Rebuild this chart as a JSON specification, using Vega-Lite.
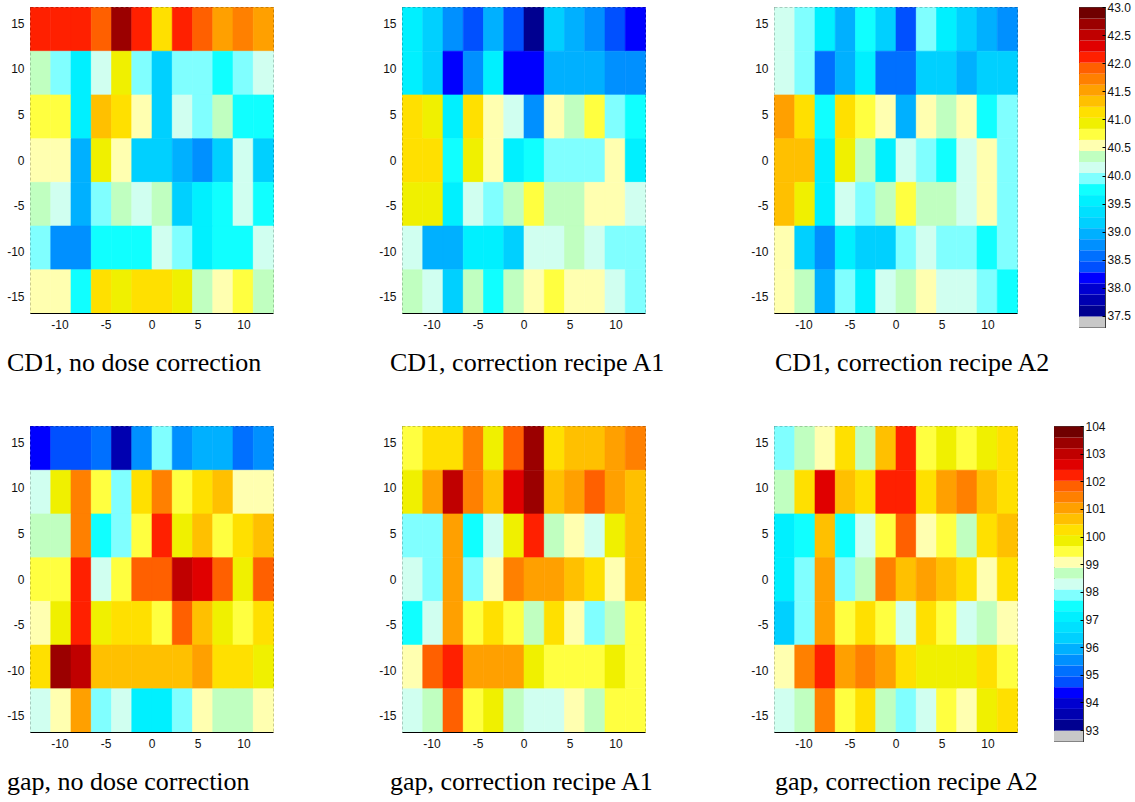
{
"$schema": "https://vega.github.io/schema/vega-lite/v6.json",
"background": "white",
"padding": {"left": 6, "top": 0, "right": 5, "bottom": 0},
"config": {
  "view": {"stroke": "#000", "strokeDash": [3, 2], "strokeWidth": 1},
  "axis": {"labelFont": "Liberation Sans", "labelFontSize": 12, "labelColor": "#111", "grid": false, "ticks": false, "labelPadding": 6, "domain": false, "title": null, "labelFlush": false, "labelOverlap": false, "labelExpr": "toString(datum.value)"},
  "title": {"font": "Liberation Serif", "fontSize": 26, "fontWeight": "normal", "color": "#000", "orient": "bottom", "anchor": "start", "frame": "group", "offset": 20}
},
"datasets": {
"A": [
{"x":-13.2,"y":12,"v":42.12},{"x":-11,"y":12,"v":42.12},{"x":-8.8,"y":12,"v":42.12},{"x":-6.6,"y":12,"v":41.92},{"x":-4.4,"y":12,"v":42.71},{"x":-2.2,"y":12,"v":42.12},{"x":0,"y":12,"v":41.13},{"x":2.2,"y":12,"v":42.12},{"x":4.4,"y":12,"v":41.92},{"x":6.6,"y":12,"v":41.53},{"x":8.8,"y":12,"v":41.72},{"x":11,"y":12,"v":41.53},
{"x":-13.2,"y":7.2,"v":40.35},{"x":-11,"y":7.2,"v":39.96},{"x":-8.8,"y":7.2,"v":39.56},{"x":-6.6,"y":7.2,"v":40.15},{"x":-4.4,"y":7.2,"v":40.94},{"x":-2.2,"y":7.2,"v":39.96},{"x":0,"y":7.2,"v":39.17},{"x":2.2,"y":7.2,"v":39.96},{"x":4.4,"y":7.2,"v":39.96},{"x":6.6,"y":7.2,"v":39.76},{"x":8.8,"y":7.2,"v":39.96},{"x":11,"y":7.2,"v":40.15},
{"x":-13.2,"y":2.4,"v":40.74},{"x":-11,"y":2.4,"v":40.74},{"x":-8.8,"y":2.4,"v":39.56},{"x":-6.6,"y":2.4,"v":41.33},{"x":-4.4,"y":2.4,"v":41.13},{"x":-2.2,"y":2.4,"v":40.54},{"x":0,"y":2.4,"v":39.17},{"x":2.2,"y":2.4,"v":40.15},{"x":4.4,"y":2.4,"v":39.96},{"x":6.6,"y":2.4,"v":40.35},{"x":8.8,"y":2.4,"v":39.76},{"x":11,"y":2.4,"v":39.76},
{"x":-13.2,"y":-2.4,"v":40.54},{"x":-11,"y":-2.4,"v":40.54},{"x":-8.8,"y":-2.4,"v":38.97},{"x":-6.6,"y":-2.4,"v":40.94},{"x":-4.4,"y":-2.4,"v":40.54},{"x":-2.2,"y":-2.4,"v":39.17},{"x":0,"y":-2.4,"v":39.17},{"x":2.2,"y":-2.4,"v":38.97},{"x":4.4,"y":-2.4,"v":38.78},{"x":6.6,"y":-2.4,"v":39.17},{"x":8.8,"y":-2.4,"v":40.15},{"x":11,"y":-2.4,"v":39.17},
{"x":-13.2,"y":-7.2,"v":40.35},{"x":-11,"y":-7.2,"v":40.15},{"x":-8.8,"y":-7.2,"v":38.97},{"x":-6.6,"y":-7.2,"v":39.96},{"x":-4.4,"y":-7.2,"v":40.35},{"x":-2.2,"y":-7.2,"v":40.15},{"x":0,"y":-7.2,"v":40.35},{"x":2.2,"y":-7.2,"v":39.17},{"x":4.4,"y":-7.2,"v":39.56},{"x":6.6,"y":-7.2,"v":39.76},{"x":8.8,"y":-7.2,"v":40.15},{"x":11,"y":-7.2,"v":39.76},
{"x":-13.2,"y":-12,"v":39.96},{"x":-11,"y":-12,"v":38.78},{"x":-8.8,"y":-12,"v":38.78},{"x":-6.6,"y":-12,"v":39.76},{"x":-4.4,"y":-12,"v":39.76},{"x":-2.2,"y":-12,"v":39.76},{"x":0,"y":-12,"v":40.15},{"x":2.2,"y":-12,"v":39.96},{"x":4.4,"y":-12,"v":39.56},{"x":6.6,"y":-12,"v":39.76},{"x":8.8,"y":-12,"v":39.76},{"x":11,"y":-12,"v":40.15},
{"x":-13.2,"y":-16.8,"v":40.54},{"x":-11,"y":-16.8,"v":40.54},{"x":-8.8,"y":-16.8,"v":39.76},{"x":-6.6,"y":-16.8,"v":41.13},{"x":-4.4,"y":-16.8,"v":40.94},{"x":-2.2,"y":-16.8,"v":41.13},{"x":0,"y":-16.8,"v":41.13},{"x":2.2,"y":-16.8,"v":40.94},{"x":4.4,"y":-16.8,"v":40.35},{"x":6.6,"y":-16.8,"v":40.54},{"x":8.8,"y":-16.8,"v":40.74},{"x":11,"y":-16.8,"v":40.35}
],
"B": [
{"x":-13.2,"y":12,"v":39.56},{"x":-11,"y":12,"v":39.17},{"x":-8.8,"y":12,"v":38.78},{"x":-6.6,"y":12,"v":38.38},{"x":-4.4,"y":12,"v":38.97},{"x":-2.2,"y":12,"v":38.38},{"x":0,"y":12,"v":37.60},{"x":2.2,"y":12,"v":39.17},{"x":4.4,"y":12,"v":38.97},{"x":6.6,"y":12,"v":38.78},{"x":8.8,"y":12,"v":38.38},{"x":11,"y":12,"v":38.19},
{"x":-13.2,"y":7.2,"v":39.56},{"x":-11,"y":7.2,"v":39.17},{"x":-8.8,"y":7.2,"v":38.19},{"x":-6.6,"y":7.2,"v":38.78},{"x":-4.4,"y":7.2,"v":39.56},{"x":-2.2,"y":7.2,"v":38.19},{"x":0,"y":7.2,"v":38.19},{"x":2.2,"y":7.2,"v":38.97},{"x":4.4,"y":7.2,"v":38.97},{"x":6.6,"y":7.2,"v":38.97},{"x":8.8,"y":7.2,"v":38.78},{"x":11,"y":7.2,"v":38.78},
{"x":-13.2,"y":2.4,"v":41.13},{"x":-11,"y":2.4,"v":40.94},{"x":-8.8,"y":2.4,"v":39.56},{"x":-6.6,"y":2.4,"v":41.13},{"x":-4.4,"y":2.4,"v":40.54},{"x":-2.2,"y":2.4,"v":40.15},{"x":0,"y":2.4,"v":38.78},{"x":2.2,"y":2.4,"v":40.54},{"x":4.4,"y":2.4,"v":40.35},{"x":6.6,"y":2.4,"v":40.74},{"x":8.8,"y":2.4,"v":39.96},{"x":11,"y":2.4,"v":39.76},
{"x":-13.2,"y":-2.4,"v":41.13},{"x":-11,"y":-2.4,"v":41.13},{"x":-8.8,"y":-2.4,"v":39.76},{"x":-6.6,"y":-2.4,"v":40.94},{"x":-4.4,"y":-2.4,"v":40.54},{"x":-2.2,"y":-2.4,"v":39.56},{"x":0,"y":-2.4,"v":39.76},{"x":2.2,"y":-2.4,"v":39.96},{"x":4.4,"y":-2.4,"v":39.96},{"x":6.6,"y":-2.4,"v":39.96},{"x":8.8,"y":-2.4,"v":40.54},{"x":11,"y":-2.4,"v":39.56},
{"x":-13.2,"y":-7.2,"v":40.94},{"x":-11,"y":-7.2,"v":40.94},{"x":-8.8,"y":-7.2,"v":39.56},{"x":-6.6,"y":-7.2,"v":40.15},{"x":-4.4,"y":-7.2,"v":39.96},{"x":-2.2,"y":-7.2,"v":40.35},{"x":0,"y":-7.2,"v":40.74},{"x":2.2,"y":-7.2,"v":40.35},{"x":4.4,"y":-7.2,"v":40.35},{"x":6.6,"y":-7.2,"v":40.54},{"x":8.8,"y":-7.2,"v":40.54},{"x":11,"y":-7.2,"v":40.15},
{"x":-13.2,"y":-12,"v":40.15},{"x":-11,"y":-12,"v":38.97},{"x":-8.8,"y":-12,"v":38.97},{"x":-6.6,"y":-12,"v":39.56},{"x":-4.4,"y":-12,"v":39.56},{"x":-2.2,"y":-12,"v":39.17},{"x":0,"y":-12,"v":40.15},{"x":2.2,"y":-12,"v":40.15},{"x":4.4,"y":-12,"v":40.35},{"x":6.6,"y":-12,"v":40.15},{"x":8.8,"y":-12,"v":39.96},{"x":11,"y":-12,"v":39.96},
{"x":-13.2,"y":-16.8,"v":40.35},{"x":-11,"y":-16.8,"v":40.15},{"x":-8.8,"y":-16.8,"v":39.17},{"x":-6.6,"y":-16.8,"v":40.35},{"x":-4.4,"y":-16.8,"v":39.76},{"x":-2.2,"y":-16.8,"v":40.35},{"x":0,"y":-16.8,"v":40.54},{"x":2.2,"y":-16.8,"v":40.74},{"x":4.4,"y":-16.8,"v":40.54},{"x":6.6,"y":-16.8,"v":40.54},{"x":8.8,"y":-16.8,"v":40.15},{"x":11,"y":-16.8,"v":39.96}
],
"C": [
{"x":-13.2,"y":12,"v":40.15},{"x":-11,"y":12,"v":39.96},{"x":-8.8,"y":12,"v":39.56},{"x":-6.6,"y":12,"v":38.97},{"x":-4.4,"y":12,"v":39.76},{"x":-2.2,"y":12,"v":39.17},{"x":0,"y":12,"v":38.38},{"x":2.2,"y":12,"v":39.96},{"x":4.4,"y":12,"v":39.56},{"x":6.6,"y":12,"v":39.17},{"x":8.8,"y":12,"v":38.97},{"x":11,"y":12,"v":38.78},
{"x":-13.2,"y":7.2,"v":40.15},{"x":-11,"y":7.2,"v":39.96},{"x":-8.8,"y":7.2,"v":38.58},{"x":-6.6,"y":7.2,"v":38.97},{"x":-4.4,"y":7.2,"v":39.56},{"x":-2.2,"y":7.2,"v":38.58},{"x":0,"y":7.2,"v":38.58},{"x":2.2,"y":7.2,"v":39.17},{"x":4.4,"y":7.2,"v":39.17},{"x":6.6,"y":7.2,"v":38.97},{"x":8.8,"y":7.2,"v":39.17},{"x":11,"y":7.2,"v":39.17},
{"x":-13.2,"y":2.4,"v":41.53},{"x":-11,"y":2.4,"v":41.13},{"x":-8.8,"y":2.4,"v":39.76},{"x":-6.6,"y":2.4,"v":41.13},{"x":-4.4,"y":2.4,"v":40.74},{"x":-2.2,"y":2.4,"v":40.54},{"x":0,"y":2.4,"v":38.97},{"x":2.2,"y":2.4,"v":40.54},{"x":4.4,"y":2.4,"v":40.35},{"x":6.6,"y":2.4,"v":40.54},{"x":8.8,"y":2.4,"v":39.76},{"x":11,"y":2.4,"v":39.96},
{"x":-13.2,"y":-2.4,"v":41.33},{"x":-11,"y":-2.4,"v":41.33},{"x":-8.8,"y":-2.4,"v":39.56},{"x":-6.6,"y":-2.4,"v":40.94},{"x":-4.4,"y":-2.4,"v":40.35},{"x":-2.2,"y":-2.4,"v":39.56},{"x":0,"y":-2.4,"v":40.15},{"x":2.2,"y":-2.4,"v":39.96},{"x":4.4,"y":-2.4,"v":39.76},{"x":6.6,"y":-2.4,"v":40.15},{"x":8.8,"y":-2.4,"v":40.54},{"x":11,"y":-2.4,"v":39.96},
{"x":-13.2,"y":-7.2,"v":41.33},{"x":-11,"y":-7.2,"v":40.94},{"x":-8.8,"y":-7.2,"v":39.56},{"x":-6.6,"y":-7.2,"v":40.15},{"x":-4.4,"y":-7.2,"v":39.96},{"x":-2.2,"y":-7.2,"v":40.35},{"x":0,"y":-7.2,"v":40.74},{"x":2.2,"y":-7.2,"v":40.35},{"x":4.4,"y":-7.2,"v":40.35},{"x":6.6,"y":-7.2,"v":40.15},{"x":8.8,"y":-7.2,"v":40.54},{"x":11,"y":-7.2,"v":39.96},
{"x":-13.2,"y":-12,"v":40.54},{"x":-11,"y":-12,"v":39.17},{"x":-8.8,"y":-12,"v":38.78},{"x":-6.6,"y":-12,"v":39.56},{"x":-4.4,"y":-12,"v":39.17},{"x":-2.2,"y":-12,"v":39.17},{"x":0,"y":-12,"v":39.96},{"x":2.2,"y":-12,"v":40.15},{"x":4.4,"y":-12,"v":39.96},{"x":6.6,"y":-12,"v":39.96},{"x":8.8,"y":-12,"v":39.76},{"x":11,"y":-12,"v":39.96},
{"x":-13.2,"y":-16.8,"v":40.54},{"x":-11,"y":-16.8,"v":40.35},{"x":-8.8,"y":-16.8,"v":38.97},{"x":-6.6,"y":-16.8,"v":39.96},{"x":-4.4,"y":-16.8,"v":39.56},{"x":-2.2,"y":-16.8,"v":40.15},{"x":0,"y":-16.8,"v":40.35},{"x":2.2,"y":-16.8,"v":40.54},{"x":4.4,"y":-16.8,"v":40.15},{"x":6.6,"y":-16.8,"v":40.15},{"x":8.8,"y":-16.8,"v":39.96},{"x":11,"y":-16.8,"v":39.76}
],
"D": [
{"x":-13.2,"y":12,"v":94.38},{"x":-11,"y":12,"v":94.77},{"x":-8.8,"y":12,"v":94.77},{"x":-6.6,"y":12,"v":95.16},{"x":-4.4,"y":12,"v":93.59},{"x":-2.2,"y":12,"v":95.55},{"x":0,"y":12,"v":97.91},{"x":2.2,"y":12,"v":95.55},{"x":4.4,"y":12,"v":95.95},{"x":6.6,"y":12,"v":95.95},{"x":8.8,"y":12,"v":95.16},{"x":11,"y":12,"v":95.55},
{"x":-13.2,"y":7.2,"v":98.30},{"x":-11,"y":7.2,"v":99.88},{"x":-8.8,"y":7.2,"v":101.45},{"x":-6.6,"y":7.2,"v":99.48},{"x":-4.4,"y":7.2,"v":97.91},{"x":-2.2,"y":7.2,"v":100.27},{"x":0,"y":7.2,"v":101.45},{"x":2.2,"y":7.2,"v":99.48},{"x":4.4,"y":7.2,"v":100.27},{"x":6.6,"y":7.2,"v":100.66},{"x":8.8,"y":7.2,"v":99.09},{"x":11,"y":7.2,"v":99.09},
{"x":-13.2,"y":2.4,"v":98.70},{"x":-11,"y":2.4,"v":98.70},{"x":-8.8,"y":2.4,"v":101.45},{"x":-6.6,"y":2.4,"v":97.52},{"x":-4.4,"y":2.4,"v":97.91},{"x":-2.2,"y":2.4,"v":99.48},{"x":0,"y":2.4,"v":102.23},{"x":2.2,"y":2.4,"v":99.88},{"x":4.4,"y":2.4,"v":100.66},{"x":6.6,"y":2.4,"v":99.48},{"x":8.8,"y":2.4,"v":100.27},{"x":11,"y":2.4,"v":100.66},
{"x":-13.2,"y":-2.4,"v":99.48},{"x":-11,"y":-2.4,"v":99.48},{"x":-8.8,"y":-2.4,"v":102.23},{"x":-6.6,"y":-2.4,"v":98.30},{"x":-4.4,"y":-2.4,"v":99.48},{"x":-2.2,"y":-2.4,"v":101.84},{"x":0,"y":-2.4,"v":101.84},{"x":2.2,"y":-2.4,"v":103.02},{"x":4.4,"y":-2.4,"v":102.63},{"x":6.6,"y":-2.4,"v":101.84},{"x":8.8,"y":-2.4,"v":99.88},{"x":11,"y":-2.4,"v":101.84},
{"x":-13.2,"y":-7.2,"v":99.09},{"x":-11,"y":-7.2,"v":99.88},{"x":-8.8,"y":-7.2,"v":102.23},{"x":-6.6,"y":-7.2,"v":99.88},{"x":-4.4,"y":-7.2,"v":100.27},{"x":-2.2,"y":-7.2,"v":100.27},{"x":0,"y":-7.2,"v":99.48},{"x":2.2,"y":-7.2,"v":101.84},{"x":4.4,"y":-7.2,"v":100.66},{"x":6.6,"y":-7.2,"v":99.88},{"x":8.8,"y":-7.2,"v":99.48},{"x":11,"y":-7.2,"v":100.27},
{"x":-13.2,"y":-12,"v":100.27},{"x":-11,"y":-12,"v":103.41},{"x":-8.8,"y":-12,"v":103.02},{"x":-6.6,"y":-12,"v":100.66},{"x":-4.4,"y":-12,"v":100.66},{"x":-2.2,"y":-12,"v":100.66},{"x":0,"y":-12,"v":100.66},{"x":2.2,"y":-12,"v":100.66},{"x":4.4,"y":-12,"v":101.05},{"x":6.6,"y":-12,"v":100.27},{"x":8.8,"y":-12,"v":100.27},{"x":11,"y":-12,"v":99.88},
{"x":-13.2,"y":-16.8,"v":98.30},{"x":-11,"y":-16.8,"v":99.09},{"x":-8.8,"y":-16.8,"v":101.05},{"x":-6.6,"y":-16.8,"v":97.91},{"x":-4.4,"y":-16.8,"v":98.30},{"x":-2.2,"y":-16.8,"v":97.13},{"x":0,"y":-16.8,"v":97.13},{"x":2.2,"y":-16.8,"v":97.91},{"x":4.4,"y":-16.8,"v":99.09},{"x":6.6,"y":-16.8,"v":98.70},{"x":8.8,"y":-16.8,"v":98.70},{"x":11,"y":-16.8,"v":99.09}
],
"E": [
{"x":-13.2,"y":12,"v":99.48},{"x":-11,"y":12,"v":100.27},{"x":-8.8,"y":12,"v":100.27},{"x":-6.6,"y":12,"v":101.45},{"x":-4.4,"y":12,"v":99.88},{"x":-2.2,"y":12,"v":101.84},{"x":0,"y":12,"v":103.41},{"x":2.2,"y":12,"v":100.27},{"x":4.4,"y":12,"v":100.66},{"x":6.6,"y":12,"v":100.66},{"x":8.8,"y":12,"v":101.05},{"x":11,"y":12,"v":101.45},
{"x":-13.2,"y":7.2,"v":99.88},{"x":-11,"y":7.2,"v":101.05},{"x":-8.8,"y":7.2,"v":103.02},{"x":-6.6,"y":7.2,"v":101.45},{"x":-4.4,"y":7.2,"v":100.66},{"x":-2.2,"y":7.2,"v":102.63},{"x":0,"y":7.2,"v":103.41},{"x":2.2,"y":7.2,"v":100.66},{"x":4.4,"y":7.2,"v":101.05},{"x":6.6,"y":7.2,"v":101.84},{"x":8.8,"y":7.2,"v":101.05},{"x":11,"y":7.2,"v":100.66},
{"x":-13.2,"y":2.4,"v":97.91},{"x":-11,"y":2.4,"v":97.91},{"x":-8.8,"y":2.4,"v":101.05},{"x":-6.6,"y":2.4,"v":97.52},{"x":-4.4,"y":2.4,"v":98.30},{"x":-2.2,"y":2.4,"v":99.88},{"x":0,"y":2.4,"v":102.23},{"x":2.2,"y":2.4,"v":98.70},{"x":4.4,"y":2.4,"v":99.09},{"x":6.6,"y":2.4,"v":98.30},{"x":8.8,"y":2.4,"v":99.88},{"x":11,"y":2.4,"v":100.66},
{"x":-13.2,"y":-2.4,"v":98.30},{"x":-11,"y":-2.4,"v":97.91},{"x":-8.8,"y":-2.4,"v":101.05},{"x":-6.6,"y":-2.4,"v":97.91},{"x":-4.4,"y":-2.4,"v":99.09},{"x":-2.2,"y":-2.4,"v":101.45},{"x":0,"y":-2.4,"v":101.05},{"x":2.2,"y":-2.4,"v":101.05},{"x":4.4,"y":-2.4,"v":100.66},{"x":6.6,"y":-2.4,"v":100.27},{"x":8.8,"y":-2.4,"v":99.09},{"x":11,"y":-2.4,"v":100.66},
{"x":-13.2,"y":-7.2,"v":97.52},{"x":-11,"y":-7.2,"v":98.30},{"x":-8.8,"y":-7.2,"v":101.05},{"x":-6.6,"y":-7.2,"v":99.48},{"x":-4.4,"y":-7.2,"v":100.27},{"x":-2.2,"y":-7.2,"v":99.48},{"x":0,"y":-7.2,"v":98.70},{"x":2.2,"y":-7.2,"v":100.27},{"x":4.4,"y":-7.2,"v":99.09},{"x":6.6,"y":-7.2,"v":97.91},{"x":8.8,"y":-7.2,"v":98.70},{"x":11,"y":-7.2,"v":99.48},
{"x":-13.2,"y":-12,"v":99.09},{"x":-11,"y":-12,"v":101.84},{"x":-8.8,"y":-12,"v":102.23},{"x":-6.6,"y":-12,"v":101.05},{"x":-4.4,"y":-12,"v":101.05},{"x":-2.2,"y":-12,"v":101.05},{"x":0,"y":-12,"v":99.88},{"x":2.2,"y":-12,"v":99.48},{"x":4.4,"y":-12,"v":99.48},{"x":6.6,"y":-12,"v":99.48},{"x":8.8,"y":-12,"v":99.88},{"x":11,"y":-12,"v":99.48},
{"x":-13.2,"y":-16.8,"v":98.30},{"x":-11,"y":-16.8,"v":98.70},{"x":-8.8,"y":-16.8,"v":101.84},{"x":-6.6,"y":-16.8,"v":99.48},{"x":-4.4,"y":-16.8,"v":99.88},{"x":-2.2,"y":-16.8,"v":98.70},{"x":0,"y":-16.8,"v":98.30},{"x":2.2,"y":-16.8,"v":98.30},{"x":4.4,"y":-16.8,"v":99.09},{"x":6.6,"y":-16.8,"v":98.70},{"x":8.8,"y":-16.8,"v":99.48},{"x":11,"y":-16.8,"v":99.48}
],
"F": [
{"x":-13.2,"y":12,"v":97.91},{"x":-11,"y":12,"v":98.70},{"x":-8.8,"y":12,"v":99.09},{"x":-6.6,"y":12,"v":100.27},{"x":-4.4,"y":12,"v":98.70},{"x":-2.2,"y":12,"v":100.66},{"x":0,"y":12,"v":102.23},{"x":2.2,"y":12,"v":99.48},{"x":4.4,"y":12,"v":99.88},{"x":6.6,"y":12,"v":99.48},{"x":8.8,"y":12,"v":99.88},{"x":11,"y":12,"v":100.27},
{"x":-13.2,"y":7.2,"v":98.70},{"x":-11,"y":7.2,"v":100.27},{"x":-8.8,"y":7.2,"v":102.63},{"x":-6.6,"y":7.2,"v":100.66},{"x":-4.4,"y":7.2,"v":100.27},{"x":-2.2,"y":7.2,"v":102.23},{"x":0,"y":7.2,"v":102.23},{"x":2.2,"y":7.2,"v":100.27},{"x":4.4,"y":7.2,"v":101.05},{"x":6.6,"y":7.2,"v":101.45},{"x":8.8,"y":7.2,"v":100.66},{"x":11,"y":7.2,"v":100.27},
{"x":-13.2,"y":2.4,"v":97.13},{"x":-11,"y":2.4,"v":97.52},{"x":-8.8,"y":2.4,"v":100.66},{"x":-6.6,"y":2.4,"v":97.52},{"x":-4.4,"y":2.4,"v":98.30},{"x":-2.2,"y":2.4,"v":99.48},{"x":0,"y":2.4,"v":101.84},{"x":2.2,"y":2.4,"v":99.09},{"x":4.4,"y":2.4,"v":99.48},{"x":6.6,"y":2.4,"v":98.70},{"x":8.8,"y":2.4,"v":100.27},{"x":11,"y":2.4,"v":100.66},
{"x":-13.2,"y":-2.4,"v":97.13},{"x":-11,"y":-2.4,"v":97.91},{"x":-8.8,"y":-2.4,"v":101.05},{"x":-6.6,"y":-2.4,"v":97.91},{"x":-4.4,"y":-2.4,"v":98.70},{"x":-2.2,"y":-2.4,"v":101.45},{"x":0,"y":-2.4,"v":100.66},{"x":2.2,"y":-2.4,"v":101.05},{"x":4.4,"y":-2.4,"v":100.66},{"x":6.6,"y":-2.4,"v":100.27},{"x":8.8,"y":-2.4,"v":99.09},{"x":11,"y":-2.4,"v":100.27},
{"x":-13.2,"y":-7.2,"v":96.34},{"x":-11,"y":-7.2,"v":97.91},{"x":-8.8,"y":-7.2,"v":101.05},{"x":-6.6,"y":-7.2,"v":99.48},{"x":-4.4,"y":-7.2,"v":100.27},{"x":-2.2,"y":-7.2,"v":99.48},{"x":0,"y":-7.2,"v":98.30},{"x":2.2,"y":-7.2,"v":100.27},{"x":4.4,"y":-7.2,"v":99.48},{"x":6.6,"y":-7.2,"v":98.30},{"x":8.8,"y":-7.2,"v":98.70},{"x":11,"y":-7.2,"v":99.09},
{"x":-13.2,"y":-12,"v":99.09},{"x":-11,"y":-12,"v":101.45},{"x":-8.8,"y":-12,"v":102.23},{"x":-6.6,"y":-12,"v":101.05},{"x":-4.4,"y":-12,"v":101.45},{"x":-2.2,"y":-12,"v":101.05},{"x":0,"y":-12,"v":100.27},{"x":2.2,"y":-12,"v":99.88},{"x":4.4,"y":-12,"v":99.88},{"x":6.6,"y":-12,"v":99.88},{"x":8.8,"y":-12,"v":100.27},{"x":11,"y":-12,"v":99.48},
{"x":-13.2,"y":-16.8,"v":98.30},{"x":-11,"y":-16.8,"v":98.70},{"x":-8.8,"y":-16.8,"v":101.45},{"x":-6.6,"y":-16.8,"v":99.48},{"x":-4.4,"y":-16.8,"v":100.27},{"x":-2.2,"y":-16.8,"v":98.70},{"x":0,"y":-16.8,"v":97.91},{"x":2.2,"y":-16.8,"v":98.30},{"x":4.4,"y":-16.8,"v":99.48},{"x":6.6,"y":-16.8,"v":99.09},{"x":8.8,"y":-16.8,"v":99.88},{"x":11,"y":-16.8,"v":100.27}
],
"cbA": [
{"lo":37.3036,"v":37.4018},{"lo":37.5,"v":37.5982},{"lo":37.6964,"v":37.7946},{"lo":37.8929,"v":37.9911},{"lo":38.0893,"v":38.1875},{"lo":38.2857,"v":38.3839},{"lo":38.4821,"v":38.5804},{"lo":38.6786,"v":38.7768},{"lo":38.875,"v":38.9732},{"lo":39.0714,"v":39.1696},{"lo":39.2679,"v":39.3661},{"lo":39.4643,"v":39.5625},{"lo":39.6607,"v":39.7589},{"lo":39.8571,"v":39.9554},{"lo":40.0536,"v":40.1518},{"lo":40.25,"v":40.3482},{"lo":40.4464,"v":40.5446},{"lo":40.6429,"v":40.7411},{"lo":40.8393,"v":40.9375},{"lo":41.0357,"v":41.1339},{"lo":41.2321,"v":41.3304},{"lo":41.4286,"v":41.5268},{"lo":41.625,"v":41.7232},{"lo":41.8214,"v":41.9196},{"lo":42.0179,"v":42.1161},{"lo":42.2143,"v":42.3125},{"lo":42.4107,"v":42.5089},{"lo":42.6071,"v":42.7054},{"lo":42.8036,"v":42.9018}
],
"cbB": [
{"lo":92.6071,"v":92.8036},{"lo":93.0,"v":93.1964},{"lo":93.3929,"v":93.5893},{"lo":93.7857,"v":93.9821},{"lo":94.1786,"v":94.375},{"lo":94.5714,"v":94.7679},{"lo":94.9643,"v":95.1607},{"lo":95.3571,"v":95.5536},{"lo":95.75,"v":95.9464},{"lo":96.1429,"v":96.3393},{"lo":96.5357,"v":96.7321},{"lo":96.9286,"v":97.125},{"lo":97.3214,"v":97.5179},{"lo":97.7143,"v":97.9107},{"lo":98.1071,"v":98.3036},{"lo":98.5,"v":98.6964},{"lo":98.8929,"v":99.0893},{"lo":99.2857,"v":99.4821},{"lo":99.6786,"v":99.875},{"lo":100.0714,"v":100.2679},{"lo":100.4643,"v":100.6607},{"lo":100.8571,"v":101.0536},{"lo":101.25,"v":101.4464},{"lo":101.6429,"v":101.8393},{"lo":102.0357,"v":102.2321},{"lo":102.4286,"v":102.625},{"lo":102.8214,"v":103.0179},{"lo":103.2143,"v":103.4107},{"lo":103.6071,"v":103.8036}
]
},
"vconcat": [
 {"hconcat": [
  {"hconcat": [
   {"data": {"name": "A"}, "width": 243, "height": 306, "title": {"text": "CD1, no dose correction", "dx": -23},
    "mark": {"type": "rect", "binSpacing": 0, "strokeWidth": 0.6},
    "encoding": {
     "x": {"field": "x", "type": "quantitative", "bin": {"binned": true, "step": 2.2}, "scale": {"domain": [-13.2, 13.2], "nice": false, "zero": false}, "axis": {"values": [-10, -5, 0, 5, 10], "domain": true, "domainColor": "#000"}},
     "y": {"field": "y", "type": "quantitative", "bin": {"binned": true, "step": 4.8}, "scale": {"domain": [-16.8, 16.8], "nice": false, "zero": false}, "axis": {"values": [-15, -10, -5, 0, 5, 10, 15]}},
     "color": {"field": "v", "type": "quantitative", "scale": {"type": "quantize", "domain": [37.30357, 43], "nice": false, "zero": false, "range": ["#c8c8c8","#000090","#0000b0","#0000d0","#0000ff","#0050ff","#0070ff","#0090ff","#00b0ff","#00d0ff","#00e0ff","#00f0ff","#10ffff","#80ffff","#d0fff0","#c0ffc0","#ffffb0","#ffff40","#f0f000","#ffe000","#ffc000","#ffa000","#ff8000","#ff6000","#ff2000","#e00000","#c00000","#9b0000","#700000"]}, "legend": null},
     "stroke": {"field": "v", "type": "quantitative", "scale": {"type": "quantize", "domain": [37.30357, 43], "nice": false, "zero": false, "range": ["#c8c8c8","#000090","#0000b0","#0000d0","#0000ff","#0050ff","#0070ff","#0090ff","#00b0ff","#00d0ff","#00e0ff","#00f0ff","#10ffff","#80ffff","#d0fff0","#c0ffc0","#ffffb0","#ffff40","#f0f000","#ffe000","#ffc000","#ffa000","#ff8000","#ff6000","#ff2000","#e00000","#c00000","#9b0000","#700000"]}, "legend": null}
    }},
   {"data": {"name": "B"}, "width": 243, "height": 306, "title": {"text": "CD1, correction recipe A1", "dx": -12},
    "mark": {"type": "rect", "binSpacing": 0, "strokeWidth": 0.6},
    "encoding": {
     "x": {"field": "x", "type": "quantitative", "bin": {"binned": true, "step": 2.2}, "scale": {"domain": [-13.2, 13.2], "nice": false, "zero": false}, "axis": {"values": [-10, -5, 0, 5, 10], "domain": true, "domainColor": "#000"}},
     "y": {"field": "y", "type": "quantitative", "bin": {"binned": true, "step": 4.8}, "scale": {"domain": [-16.8, 16.8], "nice": false, "zero": false}, "axis": {"values": [-15, -10, -5, 0, 5, 10, 15]}},
     "color": {"field": "v", "type": "quantitative", "scale": {"type": "quantize", "domain": [37.30357, 43], "nice": false, "zero": false, "range": ["#c8c8c8","#000090","#0000b0","#0000d0","#0000ff","#0050ff","#0070ff","#0090ff","#00b0ff","#00d0ff","#00e0ff","#00f0ff","#10ffff","#80ffff","#d0fff0","#c0ffc0","#ffffb0","#ffff40","#f0f000","#ffe000","#ffc000","#ffa000","#ff8000","#ff6000","#ff2000","#e00000","#c00000","#9b0000","#700000"]}, "legend": null},
     "stroke": {"field": "v", "type": "quantitative", "scale": {"type": "quantize", "domain": [37.30357, 43], "nice": false, "zero": false, "range": ["#c8c8c8","#000090","#0000b0","#0000d0","#0000ff","#0050ff","#0070ff","#0090ff","#00b0ff","#00d0ff","#00e0ff","#00f0ff","#10ffff","#80ffff","#d0fff0","#c0ffc0","#ffffb0","#ffff40","#f0f000","#ffe000","#ffc000","#ffa000","#ff8000","#ff6000","#ff2000","#e00000","#c00000","#9b0000","#700000"]}, "legend": null}
    }},
   {"data": {"name": "C"}, "width": 243, "height": 306, "title": {"text": "CD1, correction recipe A2", "dx": 1},
    "mark": {"type": "rect", "binSpacing": 0, "strokeWidth": 0.6},
    "encoding": {
     "x": {"field": "x", "type": "quantitative", "bin": {"binned": true, "step": 2.2}, "scale": {"domain": [-13.2, 13.2], "nice": false, "zero": false}, "axis": {"values": [-10, -5, 0, 5, 10], "domain": true, "domainColor": "#000"}},
     "y": {"field": "y", "type": "quantitative", "bin": {"binned": true, "step": 4.8}, "scale": {"domain": [-16.8, 16.8], "nice": false, "zero": false}, "axis": {"values": [-15, -10, -5, 0, 5, 10, 15]}},
     "color": {"field": "v", "type": "quantitative", "scale": {"type": "quantize", "domain": [37.30357, 43], "nice": false, "zero": false, "range": ["#c8c8c8","#000090","#0000b0","#0000d0","#0000ff","#0050ff","#0070ff","#0090ff","#00b0ff","#00d0ff","#00e0ff","#00f0ff","#10ffff","#80ffff","#d0fff0","#c0ffc0","#ffffb0","#ffff40","#f0f000","#ffe000","#ffc000","#ffa000","#ff8000","#ff6000","#ff2000","#e00000","#c00000","#9b0000","#700000"]}, "legend": null},
     "stroke": {"field": "v", "type": "quantitative", "scale": {"type": "quantize", "domain": [37.30357, 43], "nice": false, "zero": false, "range": ["#c8c8c8","#000090","#0000b0","#0000d0","#0000ff","#0050ff","#0070ff","#0090ff","#00b0ff","#00d0ff","#00e0ff","#00f0ff","#10ffff","#80ffff","#d0fff0","#c0ffc0","#ffffb0","#ffff40","#f0f000","#ffe000","#ffc000","#ffa000","#ff8000","#ff6000","#ff2000","#e00000","#c00000","#9b0000","#700000"]}, "legend": null}
    }}
  ], "spacing": 129, "bounds": "flush", "resolve": {"scale": {"color": "independent", "stroke": "independent", "x": "independent", "y": "independent"}}},
  {"data": {"name": "cbA"}, "width": 26, "height": 320, "view": {"stroke": "#000", "strokeDash": [1, 0]},
   "mark": {"type": "rect", "binSpacing": 0, "strokeWidth": 0},
   "encoding": {
    "y": {"field": "lo", "type": "quantitative", "bin": {"binned": true, "step": 0.196429}, "scale": {"domain": [37.30357, 43], "nice": false, "zero": false}, "axis": {"orient": "right", "values": [37.5, 38, 38.5, 39, 39.5, 40, 40.5, 41, 41.5, 42, 42.5, 43], "labelExpr": "format(datum.value, '.1f')", "ticks": true, "tickSize": -3, "tickColor": "#000", "labelPadding": 5}},
    "color": {"field": "v", "type": "quantitative", "scale": {"type": "quantize", "domain": [37.30357, 43], "nice": false, "zero": false, "range": ["#c8c8c8","#000090","#0000b0","#0000d0","#0000ff","#0050ff","#0070ff","#0090ff","#00b0ff","#00d0ff","#00e0ff","#00f0ff","#10ffff","#80ffff","#d0fff0","#c0ffc0","#ffffb0","#ffff40","#f0f000","#ffe000","#ffc000","#ffa000","#ff8000","#ff6000","#ff2000","#e00000","#c00000","#9b0000","#700000"]}, "legend": null}
   }}
 ], "spacing": 26, "resolve": {"scale": {"color": "independent", "stroke": "independent", "x": "independent", "y": "independent"}}},
 {"hconcat": [
  {"hconcat": [
   {"data": {"name": "D"}, "width": 243, "height": 306, "title": {"text": "gap, no dose correction", "dx": -23},
    "mark": {"type": "rect", "binSpacing": 0, "strokeWidth": 0.6},
    "encoding": {
     "x": {"field": "x", "type": "quantitative", "bin": {"binned": true, "step": 2.2}, "scale": {"domain": [-13.2, 13.2], "nice": false, "zero": false}, "axis": {"values": [-10, -5, 0, 5, 10], "domain": true, "domainColor": "#000"}},
     "y": {"field": "y", "type": "quantitative", "bin": {"binned": true, "step": 4.8}, "scale": {"domain": [-16.8, 16.8], "nice": false, "zero": false}, "axis": {"values": [-15, -10, -5, 0, 5, 10, 15]}},
     "color": {"field": "v", "type": "quantitative", "scale": {"type": "quantize", "domain": [92.60714, 104], "nice": false, "zero": false, "range": ["#c8c8c8","#000090","#0000b0","#0000d0","#0000ff","#0050ff","#0070ff","#0090ff","#00b0ff","#00d0ff","#00e0ff","#00f0ff","#10ffff","#80ffff","#d0fff0","#c0ffc0","#ffffb0","#ffff40","#f0f000","#ffe000","#ffc000","#ffa000","#ff8000","#ff6000","#ff2000","#e00000","#c00000","#9b0000","#700000"]}, "legend": null},
     "stroke": {"field": "v", "type": "quantitative", "scale": {"type": "quantize", "domain": [92.60714, 104], "nice": false, "zero": false, "range": ["#c8c8c8","#000090","#0000b0","#0000d0","#0000ff","#0050ff","#0070ff","#0090ff","#00b0ff","#00d0ff","#00e0ff","#00f0ff","#10ffff","#80ffff","#d0fff0","#c0ffc0","#ffffb0","#ffff40","#f0f000","#ffe000","#ffc000","#ffa000","#ff8000","#ff6000","#ff2000","#e00000","#c00000","#9b0000","#700000"]}, "legend": null}
    }},
   {"data": {"name": "E"}, "width": 243, "height": 306, "title": {"text": "gap, correction recipe A1", "dx": -12},
    "mark": {"type": "rect", "binSpacing": 0, "strokeWidth": 0.6},
    "encoding": {
     "x": {"field": "x", "type": "quantitative", "bin": {"binned": true, "step": 2.2}, "scale": {"domain": [-13.2, 13.2], "nice": false, "zero": false}, "axis": {"values": [-10, -5, 0, 5, 10], "domain": true, "domainColor": "#000"}},
     "y": {"field": "y", "type": "quantitative", "bin": {"binned": true, "step": 4.8}, "scale": {"domain": [-16.8, 16.8], "nice": false, "zero": false}, "axis": {"values": [-15, -10, -5, 0, 5, 10, 15]}},
     "color": {"field": "v", "type": "quantitative", "scale": {"type": "quantize", "domain": [92.60714, 104], "nice": false, "zero": false, "range": ["#c8c8c8","#000090","#0000b0","#0000d0","#0000ff","#0050ff","#0070ff","#0090ff","#00b0ff","#00d0ff","#00e0ff","#00f0ff","#10ffff","#80ffff","#d0fff0","#c0ffc0","#ffffb0","#ffff40","#f0f000","#ffe000","#ffc000","#ffa000","#ff8000","#ff6000","#ff2000","#e00000","#c00000","#9b0000","#700000"]}, "legend": null},
     "stroke": {"field": "v", "type": "quantitative", "scale": {"type": "quantize", "domain": [92.60714, 104], "nice": false, "zero": false, "range": ["#c8c8c8","#000090","#0000b0","#0000d0","#0000ff","#0050ff","#0070ff","#0090ff","#00b0ff","#00d0ff","#00e0ff","#00f0ff","#10ffff","#80ffff","#d0fff0","#c0ffc0","#ffffb0","#ffff40","#f0f000","#ffe000","#ffc000","#ffa000","#ff8000","#ff6000","#ff2000","#e00000","#c00000","#9b0000","#700000"]}, "legend": null}
    }},
   {"data": {"name": "F"}, "width": 243, "height": 306, "title": {"text": "gap, correction recipe A2", "dx": 1},
    "mark": {"type": "rect", "binSpacing": 0, "strokeWidth": 0.6},
    "encoding": {
     "x": {"field": "x", "type": "quantitative", "bin": {"binned": true, "step": 2.2}, "scale": {"domain": [-13.2, 13.2], "nice": false, "zero": false}, "axis": {"values": [-10, -5, 0, 5, 10], "domain": true, "domainColor": "#000"}},
     "y": {"field": "y", "type": "quantitative", "bin": {"binned": true, "step": 4.8}, "scale": {"domain": [-16.8, 16.8], "nice": false, "zero": false}, "axis": {"values": [-15, -10, -5, 0, 5, 10, 15]}},
     "color": {"field": "v", "type": "quantitative", "scale": {"type": "quantize", "domain": [92.60714, 104], "nice": false, "zero": false, "range": ["#c8c8c8","#000090","#0000b0","#0000d0","#0000ff","#0050ff","#0070ff","#0090ff","#00b0ff","#00d0ff","#00e0ff","#00f0ff","#10ffff","#80ffff","#d0fff0","#c0ffc0","#ffffb0","#ffff40","#f0f000","#ffe000","#ffc000","#ffa000","#ff8000","#ff6000","#ff2000","#e00000","#c00000","#9b0000","#700000"]}, "legend": null},
     "stroke": {"field": "v", "type": "quantitative", "scale": {"type": "quantize", "domain": [92.60714, 104], "nice": false, "zero": false, "range": ["#c8c8c8","#000090","#0000b0","#0000d0","#0000ff","#0050ff","#0070ff","#0090ff","#00b0ff","#00d0ff","#00e0ff","#00f0ff","#10ffff","#80ffff","#d0fff0","#c0ffc0","#ffffb0","#ffff40","#f0f000","#ffe000","#ffc000","#ffa000","#ff8000","#ff6000","#ff2000","#e00000","#c00000","#9b0000","#700000"]}, "legend": null}
    }}
  ], "spacing": 129, "bounds": "flush", "resolve": {"scale": {"color": "independent", "stroke": "independent", "x": "independent", "y": "independent"}}},
  {"data": {"name": "cbB"}, "width": 29, "height": 315, "view": {"stroke": "#000", "strokeDash": [1, 0]},
   "mark": {"type": "rect", "binSpacing": 0, "strokeWidth": 0},
   "encoding": {
    "y": {"field": "lo", "type": "quantitative", "bin": {"binned": true, "step": 0.392857}, "scale": {"domain": [92.60714, 104], "nice": false, "zero": false}, "axis": {"orient": "right", "values": [93, 94, 95, 96, 97, 98, 99, 100, 101, 102, 103, 104], "ticks": true, "tickSize": -3, "tickColor": "#000", "labelPadding": 5}},
    "color": {"field": "v", "type": "quantitative", "scale": {"type": "quantize", "domain": [92.60714, 104], "nice": false, "zero": false, "range": ["#c8c8c8","#000090","#0000b0","#0000d0","#0000ff","#0050ff","#0070ff","#0090ff","#00b0ff","#00d0ff","#00e0ff","#00f0ff","#10ffff","#80ffff","#d0fff0","#c0ffc0","#ffffb0","#ffff40","#f0f000","#ffe000","#ffc000","#ffa000","#ff8000","#ff6000","#ff2000","#e00000","#c00000","#9b0000","#700000"]}, "legend": null}
   }}
 ], "spacing": 13, "resolve": {"scale": {"color": "independent", "stroke": "independent", "x": "independent", "y": "independent"}}}
],
"spacing": 42,
"resolve": {"scale": {"color": "independent", "stroke": "independent", "x": "independent", "y": "independent"}}
}
